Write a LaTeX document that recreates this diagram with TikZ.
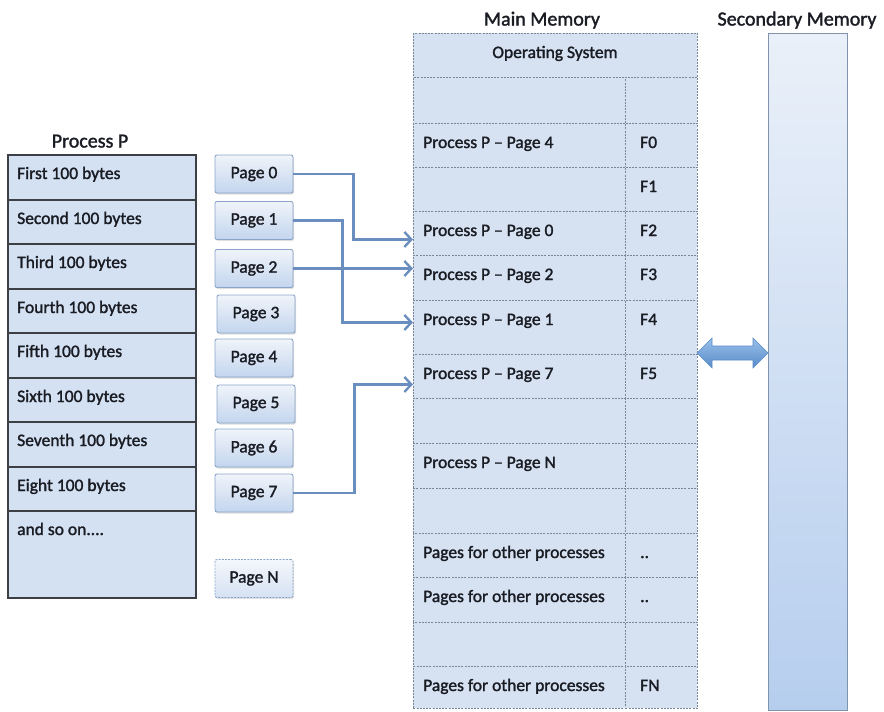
\documentclass[tikz,border=0pt]{standalone}
\usepackage{fontspec}
\setmainfont{Carlito}[FakeBold=1.6]
\usetikzlibrary{arrows.meta,shadows}
\definecolor{txt}{HTML}{1A1C24}
\definecolor{pborder}{HTML}{3C3F44}
\definecolor{pfill}{HTML}{D4E1F2}
\definecolor{pgborder}{HTML}{8AA4C8}
\definecolor{pgtop}{HTML}{F0F4FA}
\definecolor{pgbot}{HTML}{C3D5EE}
\definecolor{mborder}{HTML}{7A8696}
\definecolor{mfill}{HTML}{D6E2F2}
\definecolor{linkc}{HTML}{6A8FBF}
\definecolor{sectop}{HTML}{EAF0F9}
\definecolor{secbot}{HTML}{B6CEEE}
\definecolor{secb}{HTML}{8093AD}
\definecolor{arrtop}{HTML}{97BFEA}
\definecolor{arrbot}{HTML}{5A8CC8}
\newcommand\mmrow[5]{%
  \node[mcell, minimum width=212pt, minimum height={#3-#2}] (#1l) at (413,#2) {};
  \node[mcell, minimum width=72pt, minimum height={#3-#2}] (#1r) at (625,#2) {};
  \node[lbl] (#1lt) at (423,#2+25) {#4};
  \node[lbl] (#1rt) at (640,#2+25) {#5};
}
\newcommand\prow[4]{%
  \node[procrow, minimum height={#3-#2}] (#1) at (7,#2) {};
  \node[lbl] (#1t) at (17,#2+25) {#4};
}
\begin{document}
\begin{tikzpicture}[x=1pt,y=-1pt,
  lbl/.style={font=\fontsize{17.5}{20}\selectfont, text=txt, inner sep=0pt, anchor=base west},
  ttl/.style={font=\fontsize{20}{24}\selectfont, text=txt, inner sep=0pt, anchor=base},
  procrow/.style={draw=pborder, line width=1.8pt, fill=pfill, anchor=north west, minimum width=188pt, inner sep=0pt},
  pagebox/.style={draw=pgborder, line width=0.9pt, rounded corners=2pt, top color=pgtop, bottom color=pgbot,
    minimum width=78pt, minimum height=38pt, inner sep=0pt,
    drop shadow={opacity=0.25, shadow xshift=1pt, shadow yshift=-1.5pt},
    font=\fontsize{17.5}{20}\selectfont, text=txt},
  mcell/.style={draw=mborder, dash pattern=on 2pt off 1.2pt, line width=0.9pt, fill=mfill, anchor=north west, inner sep=0pt},
  link/.style={draw=linkc, line width=2.4pt, -{Straight Barb[length=7pt,width=15pt]}}
]
\useasboundingbox (0,0) rectangle (884,712);

% titles
\node[ttl] (tproc) at (90,147.5) {Process P};
\node[ttl] (tmain) at (542,25.5) {Main Memory};
\node[ttl] (tsec) at (797,25.5) {Secondary Memory};

% process P table
\prow{pr1}{154}{199}{First 100 bytes}
\prow{pr2}{199}{243}{Second 100 bytes}
\prow{pr3}{243}{288}{Third 100 bytes}
\prow{pr4}{288}{332}{Fourth 100 bytes}
\prow{pr5}{332}{377}{Fifth 100 bytes}
\prow{pr6}{377}{421}{Sixth 100 bytes}
\prow{pr7}{421}{466}{Seventh 100 bytes}
\prow{pr8}{466}{510}{Eight 100 bytes}
\prow{pr9}{510}{597}{and so on....}

% pages
\node[pagebox] (p0) at (254,174) {Page 0};
\node[pagebox] (p1) at (254,220.5) {Page 1};
\node[pagebox] (p2) at (254,268.5) {Page 2};
\node[pagebox] (p3) at (256,314) {Page 3};
\node[pagebox] (p4) at (254,358) {Page 4};
\node[pagebox] (p5) at (256,404) {Page 5};
\node[pagebox] (p6) at (254,448) {Page 6};
\node[pagebox] (p7) at (254,493) {Page 7};
\node[pagebox, dash pattern=on 2pt off 1.2pt, top color=pgtop!70!white, bottom color=pgbot!70!white] (pN) at (254,578.5) {Page N};

% main memory
\node[mcell, minimum width=284pt, minimum height=44pt] (os) at (413,33) {};
\node[lbl, anchor=base] (ost) at (555,58) {Operating System};
\mmrow{r1}{77}{123}{}{}
\mmrow{r2}{123}{167}{Process P – Page 4}{F0}
\mmrow{r3}{167}{211}{}{F1}
\mmrow{r4}{211}{255}{Process P – Page 0}{F2}
\mmrow{r5}{255}{300}{Process P – Page 2}{F3}
\mmrow{r6}{300}{354}{Process P – Page 1}{F4}
\mmrow{r7}{354}{398}{Process P – Page 7}{F5}
\mmrow{r8}{398}{443}{}{}
\mmrow{r9}{443}{488}{Process P – Page N}{}
\mmrow{r10}{488}{533}{}{}
\mmrow{r11}{533}{577}{Pages for other processes}{..}
\mmrow{r12}{577}{622}{Pages for other processes}{..}
\mmrow{r13}{622}{666}{}{}
\mmrow{r14}{666}{708}{Pages for other processes}{FN}

% secondary memory
\node[draw=secb, line width=1.2pt, top color=sectop, bottom color=secbot, minimum width=79pt, minimum height=677pt, anchor=north west, inner sep=0pt] (sec) at (768,33) {};

% links
\draw[link] (p0.east) -- ++(60,0) |- ([yshift=-6pt]r4l.west);
\draw[link] (p1.east) -- ++(49,0) |- ([yshift=5pt]r6l.west);
\draw[link] (p2.east) -- (p2.east -| r5l.west);
\draw[link] (p7.east) -- ++(61,0) |- ([yshift=-8pt]r7l.west);

% double block arrow between memories
\path[draw=arrbot, line width=0.6pt, top color=arrtop, bottom color=arrbot]
  (697,353) -- (712,338) -- (712,346) -- (753,346) -- (753,338) -- (768,353)
  -- (753,368) -- (753,360) -- (712,360) -- (712,368) -- cycle;
\end{tikzpicture}
\end{document}
